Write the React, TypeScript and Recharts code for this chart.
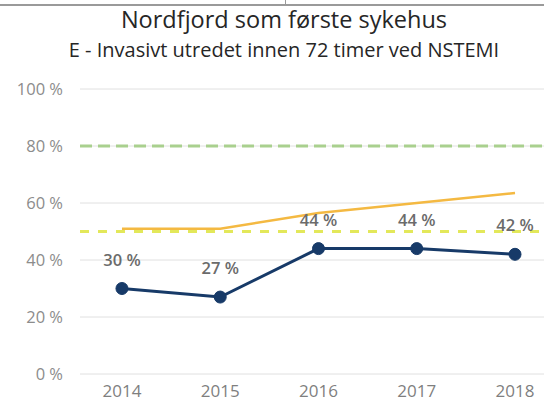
import React from 'react';
import { LineChart, Line, XAxis, YAxis, CartesianGrid, ReferenceLine, LabelList } from 'recharts';

const years = [2014, 2015, 2016, 2017, 2018];
const nordfjord = [30, 27, 44, 44, 42];
const landet = [51, 51, 56.5, 60, 63.5];
const yTicks = [0, 20, 40, 60, 80, 100];
const maalGod = 80;
const maalMiddels = 50;

const data = years.map((year, i) => ({
  year,
  nordfjord: nordfjord[i],
  landet: landet[i],
}));

const font = '"Open Sans", sans-serif';

const App: React.FC = () => {
  return (
    <div style={{ position: 'absolute', left: 0, top: 0, width: 544, height: 404, background: '#fff', overflow: 'hidden', fontFamily: font }}>
      <div style={{ position: 'absolute', left: 0, top: 4, width: 544, height: 1.5, background: '#9a9a9a' }} />
      <div style={{ position: 'absolute', left: 285, top: 0, width: 1, height: 5, background: '#9a9a9a' }} />
      <div style={{ position: 'absolute', left: 284, top: 7.5, transform: 'translateX(-50%)', whiteSpace: 'nowrap', fontSize: 23.5, lineHeight: 1, color: '#262626' }}>
        Nordfjord som første sykehus
      </div>
      <div style={{ position: 'absolute', left: 284, top: 40, transform: 'translateX(-50%)', whiteSpace: 'nowrap', fontSize: 20, lineHeight: 1, color: '#262626' }}>
        E - Invasivt utredet innen 72 timer ved NSTEMI
      </div>
      <div style={{ position: 'absolute', left: 0, top: 0 }}>
        <LineChart width={544} height={404} data={data} margin={{ top: 89, right: 0, left: 0, bottom: 0 }}>
          <CartesianGrid vertical={false} stroke="#e0e0e0" />
          <XAxis
            dataKey="year"
            type="number"
            domain={[2013.573, 2018.295]}
            ticks={years}
            allowDataOverflow
            axisLine={false}
            tickLine={false}
            tickSize={0}
            tickMargin={11}
            height={30}
            tick={{ fill: '#7f7f7f', fontSize: 17, fontFamily: font }}
          />
          <YAxis
            domain={[0, 100]}
            ticks={yTicks}
            tickFormatter={(v) => `${v} %`}
            axisLine={false}
            tickLine={false}
            tickSize={0}
            tickMargin={17}
            width={80}
            tick={{ fill: '#8c8c8c', fontSize: 16.5, fontFamily: font }}
          />
          <ReferenceLine y={maalGod} stroke="#a9d08e" strokeWidth={3} strokeDasharray="12 6" />
          <ReferenceLine y={maalMiddels} stroke="#e3e85a" strokeWidth={3} strokeDasharray="9 9" />
          <Line
            dataKey="landet"
            stroke="#f4b942"
            strokeWidth={2.5}
            dot={false}
            type="linear"
            isAnimationActive={false}
          />
          <Line
            dataKey="nordfjord"
            stroke="#173a68"
            strokeWidth={3}
            dot={{ r: 6, fill: '#173a68', stroke: '#173a68', strokeWidth: 1 }}
            type="linear"
            isAnimationActive={false}
          >
            <LabelList
              dataKey="nordfjord"
              position="top"
              offset={23}
              formatter={(v: any) => `${v} %`}
              style={{ fill: '#6b6b6b', fontSize: 16.5, fontWeight: 600, fontFamily: font }}
            />
          </Line>
        </LineChart>
      </div>
    </div>
  );
};

export default App;
